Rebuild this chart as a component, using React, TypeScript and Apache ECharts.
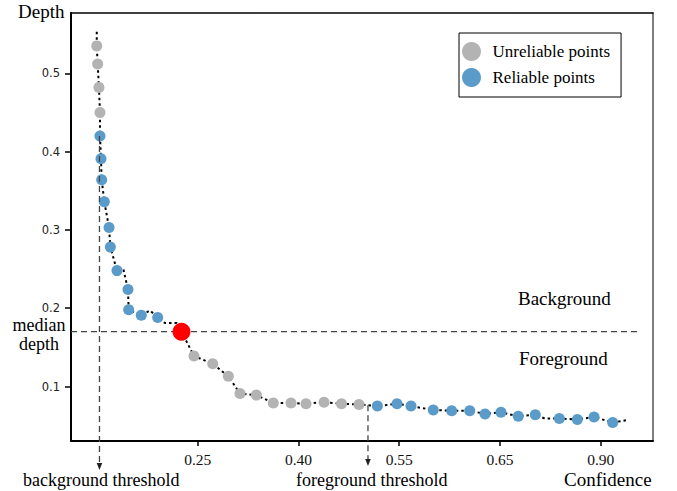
import React, { useEffect, useRef } from 'react';
import * as echarts from 'echarts';

// x positions are expressed in "tick units": tick i sits at position i (evenly spaced, non-linear labels)
const xTickPositions = [1, 2, 3, 4, 5];
const xTickLabels = ['0.25', '0.40', '0.55', '0.65', '0.90'];
const yTickValues = [0.1, 0.2, 0.3, 0.4, 0.5];

const xMin = -0.2576;
const xMax = 5.519;
const yMin = 0.0304;
const yMax = 0.577;

const pointX = [
  -0.002, 0.007, 0.02, 0.03, 0.03, 0.04, 0.047, 0.073, 0.12, 0.133, 0.199, 0.308, 0.315, 0.44, 0.603,
  0.963, 1.149, 1.304, 1.42, 1.582, 1.75, 1.926, 2.075, 2.254, 2.427, 2.601,
  2.783, 2.978, 3.117, 3.338, 3.521, 3.7, 3.852, 4.01, 4.182, 4.351, 4.589, 4.768, 4.934, 5.119,
];
const pointY = [
  0.535, 0.512, 0.482, 0.45, 0.42, 0.391, 0.364, 0.336, 0.303, 0.278, 0.248, 0.224, 0.198, 0.191, 0.188,
  0.139, 0.129, 0.113, 0.091, 0.089, 0.079, 0.079, 0.078, 0.08, 0.078, 0.077,
  0.075, 0.078, 0.075, 0.07, 0.069, 0.069, 0.065, 0.067, 0.062, 0.064, 0.059, 0.058, 0.061, 0.054,
];
const pointReliable = [
  0, 0, 0, 0, 1, 1, 1, 1, 1, 1, 1, 1, 1, 1, 1,
  0, 0, 0, 0, 0, 0, 0, 0, 0, 0, 0,
  1, 1, 1, 1, 1, 1, 1, 1, 1, 1, 1, 1, 1, 1,
];

const medianPointX = 0.839;
const medianPointY = 0.17;

const curveX = [
  -0.002, -0.002, 0.007, 0.02, 0.03, 0.03, 0.04, 0.047, 0.073, 0.12, 0.133, 0.199, 0.262, 0.308, 0.315,
  0.44, 0.527, 0.603, 0.675, 0.792, 0.839, 0.963, 1.149, 1.304, 1.42, 1.582, 1.75, 1.926, 2.075, 2.254,
  2.427, 2.601, 2.783, 2.978, 3.117, 3.338, 3.521, 3.7, 3.852, 4.01, 4.182, 4.351, 4.447, 4.589, 4.768,
  4.934, 5.119, 5.258,
];
const curveY = [
  0.553, 0.535, 0.512, 0.482, 0.45, 0.42, 0.391, 0.364, 0.336, 0.303, 0.278, 0.248, 0.25, 0.224, 0.198,
  0.191, 0.197, 0.188, 0.181, 0.181, 0.17, 0.139, 0.129, 0.113, 0.091, 0.089, 0.079, 0.079, 0.078, 0.08,
  0.078, 0.077, 0.075, 0.078, 0.075, 0.07, 0.069, 0.069, 0.065, 0.067, 0.062, 0.064, 0.059, 0.059, 0.058,
  0.061, 0.054, 0.057,
];

const backgroundThresholdX = 0.025;
const backgroundThresholdTopY = 0.42;
const foregroundThresholdX = 2.69;
const foregroundThresholdTopY = 0.076;
const medianDepth = 0.17;
const medianLineEndX = 5.38;

const SERIF = "'Liberation Serif', 'Times New Roman', serif";
const GRAY = '#b3b3b3';
const BLUE = '#5b9bc9';

export default function App() {
  const ref = useRef<HTMLDivElement>(null);

  useEffect(() => {
    if (!ref.current) return;
    const chart = echarts.init(ref.current, undefined, { renderer: 'svg' });

    const unreliable: number[][] = [];
    const reliable: number[][] = [];
    pointX.forEach((x, i) => {
      (pointReliable[i] ? reliable : unreliable).push([x, pointY[i]]);
    });
    const curve = curveX.map((x, i) => [x, curveY[i]]);

    chart.setOption({
      animation: false,
      grid: { left: 71, top: 13, width: 582, height: 428, containLabel: false },
      legend: {
        data: ['Unreliable points', 'Reliable points'],
        orient: 'vertical',
        left: 459,
        top: 33,
        padding: [9, 11, 10, 3],
        itemGap: 7,
        itemWidth: 32,
        itemHeight: 19,
        icon: 'circle',
        borderColor: '#000',
        borderWidth: 1,
        borderRadius: 0,
        backgroundColor: '#fff',
        selectedMode: false,
        textStyle: { fontFamily: SERIF, fontSize: 17, color: '#000', padding: 0 },
      },
      xAxis: [
        {
          type: 'value',
          min: xMin,
          max: xMax,
          position: 'bottom',
          splitLine: { show: false },
          axisLine: { show: true, onZero: false, lineStyle: { color: '#000', width: 2 } },
          axisTick: { show: true, customValues: xTickPositions, length: 5, inside: false, lineStyle: { color: '#000', width: 1.5 } },
          axisLabel: {
            show: true,
            customValues: xTickPositions,
            formatter: (v: number) => {
              const i = xTickPositions.findIndex((p) => Math.abs(p - v) < 1e-6);
              return i >= 0 ? xTickLabels[i] : '';
            },
            margin: 10,
            fontFamily: SERIF,
            fontSize: 15.5,
            color: '#111',
          },
        },
        {
          type: 'value',
          min: xMin,
          max: xMax,
          position: 'top',
          splitLine: { show: false },
          axisLine: { show: true, onZero: false, lineStyle: { color: '#000', width: 1.5 } },
          axisTick: { show: false },
          axisLabel: { show: false },
        },
      ],
      yAxis: [
        {
          type: 'value',
          min: yMin,
          max: yMax,
          position: 'left',
          splitLine: { show: false },
          axisLine: { show: true, onZero: false, lineStyle: { color: '#000', width: 2 } },
          axisTick: { show: true, customValues: yTickValues, length: 6, lineStyle: { color: '#000', width: 1.5 } },
          axisLabel: {
            show: true,
            customValues: yTickValues,
            formatter: (v: number) => v.toFixed(1),
            margin: 11,
            fontFamily: "'DejaVu Sans', sans-serif",
            fontSize: 11.5,
            color: '#222',
          },
        },
        {
          type: 'value',
          min: yMin,
          max: yMax,
          position: 'right',
          splitLine: { show: false },
          axisLine: { show: true, onZero: false, lineStyle: { color: '#555', width: 1.5 } },
          axisTick: { show: false },
          axisLabel: { show: false },
        },
      ],
      series: [
        {
          name: 'curve',
          type: 'line',
          data: curve,
          symbol: 'none',
          z: 2,
          lineStyle: { color: '#000', width: 2, type: [2.5, 3] },
          silent: true,
        },
        {
          name: 'Unreliable points',
          type: 'scatter',
          data: unreliable,
          symbolSize: 11,
          z: 5,
          itemStyle: { color: GRAY, opacity: 1 },
        },
        {
          name: 'Reliable points',
          type: 'scatter',
          data: reliable,
          symbolSize: 11,
          z: 5,
          itemStyle: { color: BLUE, opacity: 1 },
        },
        {
          name: 'median',
          type: 'scatter',
          data: [[medianPointX, medianPointY]],
          symbolSize: 18,
          z: 10,
          itemStyle: { color: '#ff0000', opacity: 1 },
        },
      ],
    });

    const px = (x: number, y: number) =>
      chart.convertToPixel({ xAxisIndex: 0, yAxisIndex: 0 }, [x, y]) as number[];

    const bgTop = px(backgroundThresholdX, backgroundThresholdTopY);
    const axisBottom = px(backgroundThresholdX, yMin)[1];
    const bgTip = axisBottom + 29;
    const fgTop = px(foregroundThresholdX, foregroundThresholdTopY);
    const fgTip = axisBottom + 25;
    const medL = px(xMin, medianDepth);
    const medR = px(medianLineEndX, medianDepth);

    const dash = { stroke: '#444', lineWidth: 1.3, lineDash: [6, 4] };
    const arrow = (x: number, tip: number) => ({
      type: 'polygon',
      z: 100,
      shape: { points: [[x - 2.8, tip - 7], [x + 2.8, tip - 7], [x, tip]] },
      style: { fill: '#222' },
    });
    const text = (t: string, x: number, y: number, size: number, align = 'left', lh = 20) => ({
      type: 'text',
      z: 100,
      x,
      y,
      style: {
        text: t,
        font: `${size}px ${SERIF}`,
        fill: '#000',
        align,
        textAlign: align,
        verticalAlign: 'middle',
        textVerticalAlign: 'middle',
        lineHeight: lh,
      },
    });

    chart.setOption({
      graphic: [
        { type: 'line', z: 3, shape: { x1: medL[0], y1: medL[1], x2: medR[0], y2: medR[1] }, style: dash },
        { type: 'line', z: 100, shape: { x1: bgTop[0], y1: bgTop[1], x2: bgTop[0], y2: bgTip - 6 }, style: dash },
        arrow(bgTop[0], bgTip),
        { type: 'line', z: 100, shape: { x1: fgTop[0], y1: fgTop[1], x2: fgTop[0], y2: fgTip - 6 }, style: dash },
        arrow(fgTop[0], fgTip),
        text('Depth', 18, 11, 19),
        text('Confidence', 564, 479, 19),
        text('Background', 518, 298, 19),
        text('Foreground', 519, 358, 19),
        text('median\ndepth', 39, 334.5, 18, 'center', 19),
        text('background threshold', 23, 480, 18),
        text('foreground threshold', 296, 480, 18),
      ],
    });

    return () => chart.dispose();
  }, []);

  return (
    <div
      ref={ref}
      style={{ position: 'fixed', left: 0, top: 0, width: 677, height: 491, background: '#fff' }}
    />
  );
}
